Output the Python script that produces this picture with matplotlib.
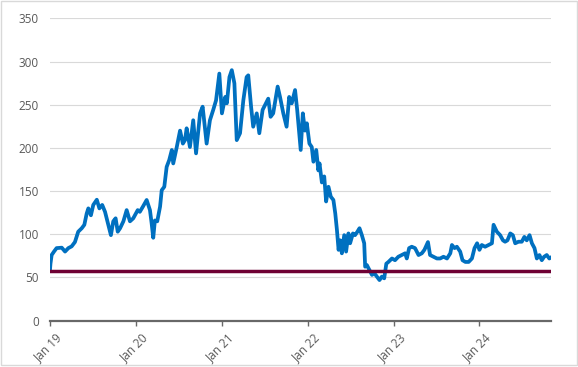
import pandas as pd
import matplotlib
matplotlib.use('Agg')
import matplotlib.pyplot as plt
import matplotlib.dates as mdates
import matplotlib.transforms as mtransforms
from matplotlib.patches import Rectangle

# series
dates = [
    '2019-01-01', '2019-01-03', '2019-01-08', '2019-01-18', '2019-01-29', '2019-02-20',
    '2019-03-06', '2019-03-20', '2019-04-03', '2019-04-17', '2019-05-01', '2019-05-16',
    '2019-05-27', '2019-06-06', '2019-06-13', '2019-06-24', '2019-07-04', '2019-07-19',
    '2019-07-30', '2019-08-11', '2019-08-23', '2019-09-06', '2019-09-17', '2019-09-27',
    '2019-10-07', '2019-10-16', '2019-10-26', '2019-11-09', '2019-11-23', '2019-12-07',
    '2019-12-21',
    '2020-01-09', '2020-01-18', '2020-01-31', '2020-02-16', '2020-03-01', '2020-03-08',
    '2020-03-15', '2020-03-22', '2020-04-01', '2020-04-13', '2020-04-20', '2020-05-01',
    '2020-05-11', '2020-05-22', '2020-06-02', '2020-06-08', '2020-06-23', '2020-07-07',
    '2020-07-19', '2020-07-28', '2020-08-04', '2020-08-18', '2020-09-01', '2020-09-13',
    '2020-09-30', '2020-10-11', '2020-10-28', '2020-11-11', '2020-11-25', '2020-12-07',
    '2020-12-21',
    '2021-01-01', '2021-01-15', '2021-01-22', '2021-02-02', '2021-02-12', '2021-02-23',
    '2021-03-05', '2021-03-19', '2021-04-02', '2021-04-16', '2021-04-23', '2021-05-05',
    '2021-05-14', '2021-05-29', '2021-06-09', '2021-06-23', '2021-07-07', '2021-07-17',
    '2021-07-27', '2021-08-07', '2021-08-26', '2021-09-05', '2021-09-19', '2021-10-03',
    '2021-10-14', '2021-10-25', '2021-11-08', '2021-11-17', '2021-11-26', '2021-12-02',
    '2021-12-11', '2021-12-20', '2021-12-28',
    '2022-01-08', '2022-01-18', '2022-01-25', '2022-02-06', '2022-02-15', '2022-02-20',
    '2022-03-02', '2022-03-12', '2022-03-20', '2022-03-30', '2022-04-09', '2022-04-20',
    '2022-04-28', '2022-05-05', '2022-05-12', '2022-05-19', '2022-05-26', '2022-06-05',
    '2022-06-13', '2022-06-23', '2022-06-30', '2022-07-12', '2022-07-21', '2022-07-31',
    '2022-08-09', '2022-08-19', '2022-08-29', '2022-09-02', '2022-09-09', '2022-09-20',
    '2022-10-01', '2022-10-11', '2022-10-22', '2022-11-02', '2022-11-12', '2022-11-22',
    '2022-12-01', '2022-12-10', '2022-12-25',
    '2023-01-07', '2023-01-21', '2023-02-05', '2023-02-19', '2023-02-26', '2023-03-08',
    '2023-03-19', '2023-04-02', '2023-04-17', '2023-05-01', '2023-05-12', '2023-05-27',
    '2023-06-05', '2023-06-20', '2023-07-04', '2023-07-18', '2023-08-01', '2023-08-16',
    '2023-08-30', '2023-09-06', '2023-09-17', '2023-09-27', '2023-10-11', '2023-10-21',
    '2023-11-02', '2023-11-16', '2023-11-30', '2023-12-11', '2023-12-22',
    '2024-01-01', '2024-01-11', '2024-01-25', '2024-02-08', '2024-02-23', '2024-03-01',
    '2024-03-15', '2024-03-29', '2024-04-10', '2024-04-19', '2024-04-29', '2024-05-11',
    '2024-05-22', '2024-06-01', '2024-06-15', '2024-06-29', '2024-07-10', '2024-07-20',
    '2024-08-01', '2024-08-11', '2024-08-22', '2024-09-01', '2024-09-12', '2024-09-22',
    '2024-10-02', '2024-10-13', '2024-10-24', '2024-10-30',
]
values = [
    59, 66, 76, 80, 84, 84.5,
    80, 84, 86, 91, 103, 107,
    111, 124, 130, 122, 134, 140,
    130, 134, 126, 111, 99, 115,
    118.5, 103, 107, 115, 128, 115,
    118.5,
    128, 126, 132, 139.7, 128, 113,
    96, 116, 115, 132, 151, 155,
    178, 186, 197.6, 182, 201, 220,
    205, 209, 222.7, 201, 232, 193.7,
    240, 247.7, 205, 232, 244, 255,
    286,
    240, 259, 251.6, 282, 290, 274.8,
    209, 217, 255, 282, 284, 247.7,
    224.5, 240, 217, 244, 251.6, 257,
    236, 240, 271, 259, 240, 224.5,
    259, 251.6, 267, 244, 217, 197.6,
    240, 220, 228.5,
    205, 201, 184, 197.6, 174, 182,
    160, 167, 138, 155, 143.5, 139.7,
    124, 105, 82, 93, 78, 99,
    80, 101, 89.6, 101, 99, 103,
    107, 99, 89.6, 62.5, 64.5, 58.7,
    53, 55, 51, 47, 51, 49,
    66, 68, 72,
    70, 74, 76, 78, 72, 84,
    85.6, 84, 76, 78, 82, 91,
    76, 74, 72, 72, 74, 72,
    78, 87.6, 84, 85.6, 80, 70,
    68, 68, 72, 84, 89.6,
    82, 87.6, 85.6, 87.6, 89.6, 111,
    103, 99, 93, 91.4, 93, 101,
    99, 89.6, 91.4, 91.4, 97, 93,
    99, 89.6, 84, 72, 76, 70,
    74, 76, 72, 73,
]
threshold = 57
y_ticks = [0, 50, 100, 150, 200, 250, 300, 350]

df = pd.DataFrame({'date': pd.to_datetime(dates), 'value': values})

grey_txt = '#595959'
fig = plt.figure(figsize=(5.78, 3.67), dpi=100)
ax = fig.add_axes([0.0865, 0.1262, 0.8663, 0.8239])

ax.plot(df['date'], df['value'], color='#0070C0', lw=2.7, solid_joinstyle='round', zorder=3)
ax.axhline(threshold, color='#6E0033', lw=2.5, zorder=4)

ax.set_ylim(0, 350)
ax.set_yticks(y_ticks)
ax.set_xlim(df['date'].iloc[0], df['date'].iloc[-1])
ax.xaxis.set_major_locator(mdates.YearLocator())
ax.xaxis.set_major_formatter(mdates.DateFormatter('%b %y'))

ax.grid(axis='y', color='#D9D9D9', lw=0.8, zorder=0)
for s in ['top', 'right', 'left']:
    ax.spines[s].set_visible(False)
ax.spines['bottom'].set_color('#686868')
ax.spines['bottom'].set_linewidth(1.6)
ax.spines['bottom'].set_zorder(5)

ax.tick_params(axis='y', length=0, pad=8, labelsize=8.5, labelcolor=grey_txt)
ax.tick_params(axis='x', length=3.5, width=1, color='#686868', pad=2, labelsize=8.5, labelcolor=grey_txt)
for lab in ax.get_xticklabels() + ax.get_yticklabels():
    lab.set_fontfamily('Open Sans')
shift = mtransforms.ScaledTranslation(4 / 72, -2 / 72, fig.dpi_scale_trans)
for lab in ax.get_xticklabels():
    lab.set(rotation=45, ha='right', va='top', rotation_mode='anchor')
    lab.set_transform(lab.get_transform() + shift)

# chart area border
fig.patches.append(Rectangle((1 / 578, 2 / 367), 576 / 578, 364 / 367, transform=fig.transFigure,
                             fill=False, edgecolor='#D9D9D9', lw=1))

fig.savefig('out.png', dpi=100)
